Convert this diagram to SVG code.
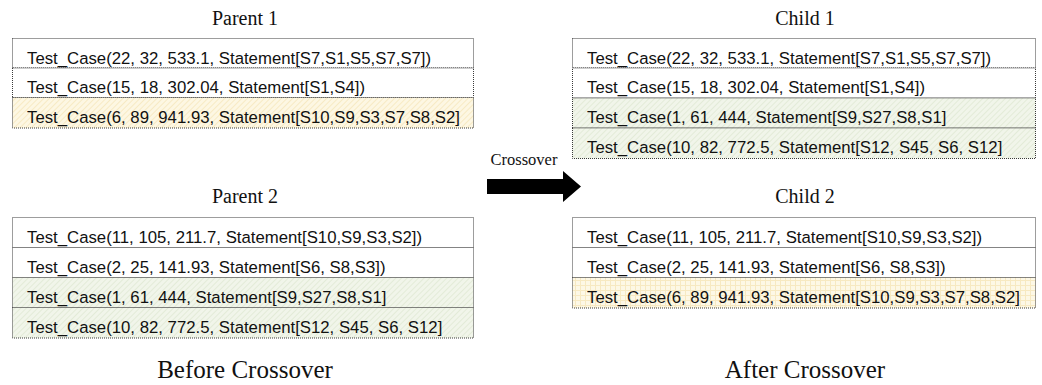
<svg xmlns="http://www.w3.org/2000/svg" width="1042" height="385" viewBox="0 0 1042 385">
  <style>
    .row { stroke: #3a3a3a; stroke-width: 1; stroke-dasharray: 1 1; }
    .plain { fill: #ffffff; }
    .yellow { fill: url(#hatchYellow); }
    .yellowgrid { fill: url(#gridYellow); }
    .green { fill: url(#hatchGreen); }
    .tc { font-family: "Liberation Sans", Arial, sans-serif; font-size: 16.75px; fill: #111; }
    .title { font-family: "Liberation Serif", "Times New Roman", serif; font-size: 20px; fill: #111; text-anchor: middle; }
    .caption { font-family: "Liberation Serif", "Times New Roman", serif; font-size: 25px; fill: #111; text-anchor: middle; }
    .xlabel { font-family: "Liberation Serif", "Times New Roman", serif; font-size: 16.5px; fill: #111; text-anchor: middle; }
  </style>
  <defs>
    <pattern id="hatchYellow" width="4" height="4" patternUnits="userSpaceOnUse" patternTransform="rotate(45)">
      <rect width="4" height="4" fill="#fdf7e3"/>
      <line x1="0" y1="0" x2="0" y2="4" stroke="#f3e2b0" stroke-width="1.2"/>
    </pattern>
    <pattern id="gridYellow" width="5" height="5" patternUnits="userSpaceOnUse">
      <rect width="5" height="5" fill="#fdf8e6"/>
      <path d="M0 0.5 H5 M0.5 0 V5" stroke="#f7e9c2" stroke-width="1"/>
    </pattern>
    <pattern id="hatchGreen" width="4" height="4" patternUnits="userSpaceOnUse" patternTransform="rotate(45)">
      <rect width="4" height="4" fill="#f1f5ea"/>
      <line x1="0" y1="0" x2="0" y2="4" stroke="#dbe5cd" stroke-width="1.2"/>
    </pattern>
  </defs>

  <rect width="1042" height="385" fill="#ffffff"/>

  <g id="parent1">
    <text class="title" x="245" y="25">Parent 1</text>
    <rect class="row plain" x="12.5" y="38.5" width="461" height="29.5"/>
    <rect class="row plain" x="12.5" y="68" width="461" height="29.5"/>
    <rect class="row yellow" x="12.5" y="97.5" width="461" height="30.5"/>
    <text class="tc" x="27" y="63.5">Test_Case(22, 32, 533.1, Statement[S7,S1,S5,S7,S7])</text>
    <text class="tc" x="27" y="93">Test_Case(15, 18, 302.04, Statement[S1,S4])</text>
    <text class="tc" x="27" y="123">Test_Case(6, 89, 941.93, Statement[S10,S9,S3,S7,S8,S2]</text>
  </g>

  <g id="parent2">
    <text class="title" x="245" y="203">Parent 2</text>
    <rect class="row plain" x="12.5" y="217.5" width="461" height="30"/>
    <rect class="row plain" x="12.5" y="247.5" width="461" height="30"/>
    <rect class="row green" x="12.5" y="277.5" width="461" height="30"/>
    <rect class="row green" x="12.5" y="307.5" width="461" height="30.5"/>
    <text class="tc" x="27" y="242.5">Test_Case(11, 105, 211.7, Statement[S10,S9,S3,S2])</text>
    <text class="tc" x="27" y="272.5">Test_Case(2, 25, 141.93, Statement[S6, S8,S3])</text>
    <text class="tc" x="27" y="302.5">Test_Case(1, 61, 444, Statement[S9,S27,S8,S1]</text>
    <text class="tc" x="27" y="332.5">Test_Case(10, 82, 772.5, Statement[S12, S45, S6, S12]</text>
  </g>

  <g id="child1">
    <text class="title" x="805" y="25">Child 1</text>
    <rect class="row plain" x="572.5" y="38.5" width="463" height="29.5"/>
    <rect class="row plain" x="572.5" y="68" width="463" height="30"/>
    <rect class="row green" x="572.5" y="98" width="463" height="30"/>
    <rect class="row green" x="572.5" y="128" width="463" height="30.5"/>
    <text class="tc" x="587" y="63.5">Test_Case(22, 32, 533.1, Statement[S7,S1,S5,S7,S7])</text>
    <text class="tc" x="587" y="93">Test_Case(15, 18, 302.04, Statement[S1,S4])</text>
    <text class="tc" x="587" y="123">Test_Case(1, 61, 444, Statement[S9,S27,S8,S1]</text>
    <text class="tc" x="587" y="153">Test_Case(10, 82, 772.5, Statement[S12, S45, S6, S12]</text>
  </g>

  <g id="child2">
    <text class="title" x="805" y="203">Child 2</text>
    <rect class="row plain" x="572.5" y="217.5" width="463" height="30"/>
    <rect class="row plain" x="572.5" y="247.5" width="463" height="30"/>
    <rect class="row yellowgrid" x="572.5" y="277.5" width="463" height="30.5"/>
    <text class="tc" x="587" y="242.5">Test_Case(11, 105, 211.7, Statement[S10,S9,S3,S2])</text>
    <text class="tc" x="587" y="272.5">Test_Case(2, 25, 141.93, Statement[S6, S8,S3])</text>
    <text class="tc" x="587" y="302.5">Test_Case(6, 89, 941.93, Statement[S10,S9,S3,S7,S8,S2]</text>
  </g>

  <g id="captions">
    <text class="caption" x="245" y="378">Before Crossover</text>
    <text class="caption" x="805" y="378">After Crossover</text>
  </g>

  <g id="connectors">
    <text class="xlabel" x="524" y="165">Crossover</text>
    <polygon points="487,179 563,179 563,171 581,186.5 563,202 563,194 487,194" fill="#000000"/>
  </g>
</svg>
